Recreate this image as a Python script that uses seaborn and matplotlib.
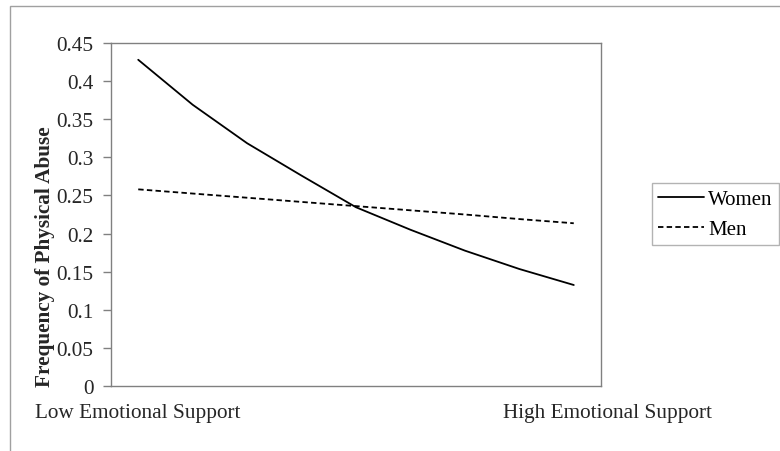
import numpy as np
import pandas as pd
import matplotlib
matplotlib.use("Agg")
import matplotlib.pyplot as plt
import matplotlib.transforms as mtransforms
from matplotlib.patches import Rectangle
import seaborn as sns

# ---- data ----
positions = [0, 1, 2, 3, 4, 5, 6, 7, 8]
women = [0.428, 0.369, 0.3185, 0.276, 0.2345, 0.205, 0.1776, 0.1535, 0.1325]
men = [0.258, 0.2525, 0.247, 0.2415, 0.236, 0.2305, 0.225, 0.219, 0.2135]
series_names = ["Women", "Men"]
x_tick_labels = ["Low Emotional Support", "High Emotional Support"]
y_ticks = [0, 0.05, 0.1, 0.15, 0.2, 0.25, 0.3, 0.35, 0.4, 0.45]
y_tick_labels = ["0", "0.05", "0.1", "0.15", "0.2", "0.25", "0.3", "0.35", "0.4", "0.45"]

df = pd.DataFrame({
    "pos": positions * 2,
    "value": women + men,
    "group": [series_names[0]] * len(women) + [series_names[1]] * len(men),
})

sns.set_style("white")
plt.rcParams["font.family"] = ["Liberation Serif", "DejaVu Serif"]

FS = 15.3
W, H = 780, 452
fig = plt.figure(figsize=(W / 100, H / 100), dpi=100)
ax = fig.add_axes([111 / W, 1 - 387 / H, (601 - 111) / W, (387 - 44) / H])

# outer chart border
fig.patches.append(Rectangle((10 / W, -0.1), 1.2, 1 - 7 / H + 0.1,
                             transform=fig.transFigure, fill=False,
                             edgecolor="#a0a0a0", linewidth=1.0))

sns.lineplot(data=df, x="pos", y="value", style="group",
             dashes={"Women": "", "Men": (3, 1.8)}, color="black",
             linewidth=1.3, ax=ax, legend=True)

ax.set_xlim(-0.5, 8.5)
ax.set_ylim(0, 0.45)
ax.set_yticks(y_ticks)
ax.set_yticklabels(y_tick_labels, fontsize=FS)
ax.set_xticks([positions[0], positions[-1]])
ax.set_xticklabels(x_tick_labels, fontsize=FS)
ax.tick_params(axis="x", length=0, pad=12.5)
ax.tick_params(axis="y", length=5.5, width=1, color="#808080", pad=7, left=True)
for lab in ax.get_xticklabels()[1:]:
    lab.set_transform(lab.get_transform() + mtransforms.ScaledTranslation(0.34, 0, fig.dpi_scale_trans))

for sp in ax.spines.values():
    sp.set_color("#808080")
    sp.set_linewidth(1.0)
    sp.set_visible(True)

ax.set_xlabel("")
ax.set_ylabel("Frequency of Physical Abuse", fontsize=FS, fontweight="bold")
ax.yaxis.set_label_coords(-0.114, 0.379)

leg = ax.legend(loc="upper left", bbox_to_anchor=(652 / W, 1 - 184 / H),
                bbox_transform=fig.transFigure, fontsize=15, frameon=True,
                fancybox=False, edgecolor="#a0a0a0", handlelength=2.2,
                handletextpad=0.2, borderpad=0.3, labelspacing=0.5,
                borderaxespad=0)
leg.get_frame().set_linewidth(1.0)
for t in leg.get_texts():
    t.set_color("black")

fig.savefig("out.png", dpi=100)
